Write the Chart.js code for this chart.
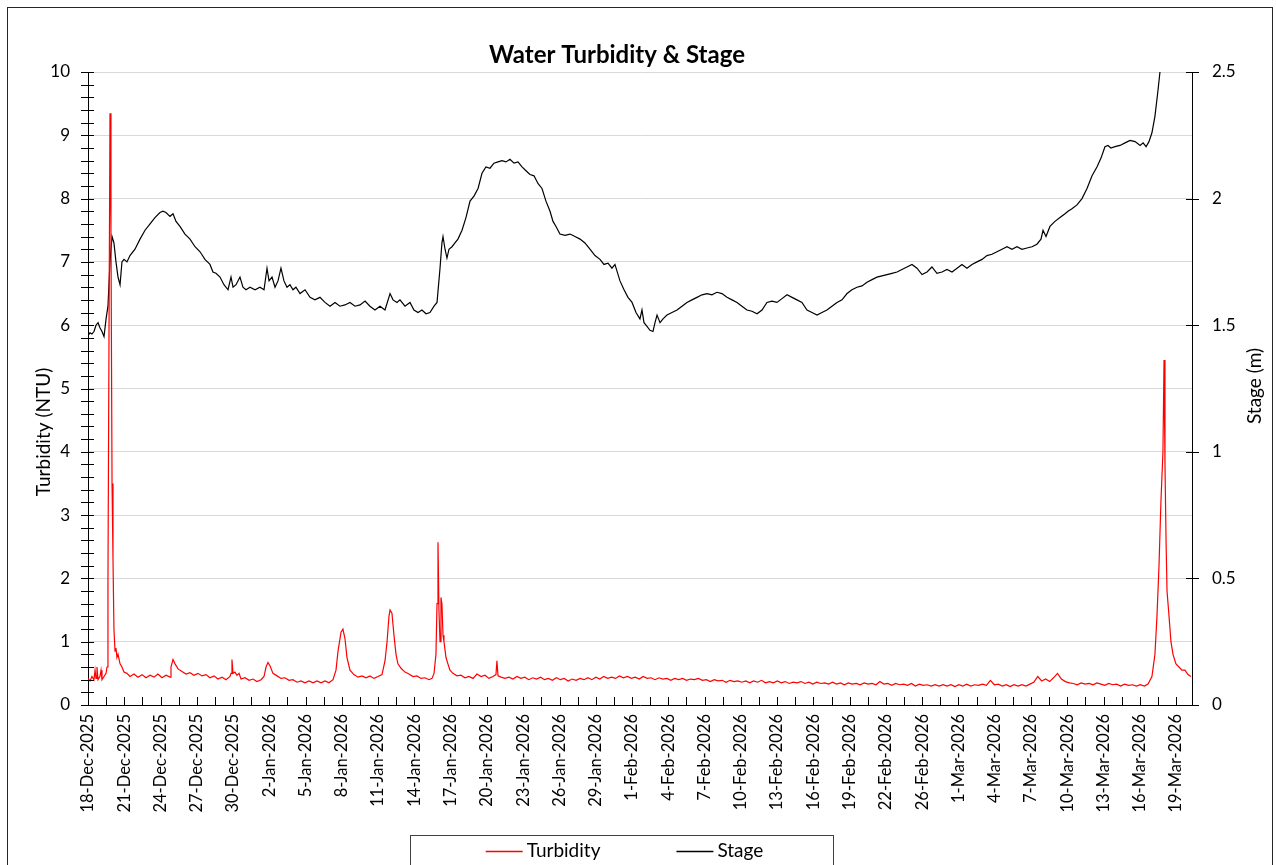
<!DOCTYPE html>
<html>
<head>
<meta charset="utf-8">
<title>Water Turbidity & Stage</title>
<script src="https://cdn.jsdelivr.net/npm/chart.js@4.4.1/dist/chart.umd.min.js"></script>
<style>
  html, body { margin: 0; padding: 0; background: #fff; }
  #wrap { width: 1276px; height: 865px; position: relative; }
</style>
</head>
<body>
<div id="wrap"><canvas id="chart"></canvas></div>
<script>
// x values are days since 18-Dec-2025 00:00
const xTickLabels = ['18-Dec-2025', '21-Dec-2025', '24-Dec-2025', '27-Dec-2025', '30-Dec-2025',
    '2-Jan-2026', '5-Jan-2026', '8-Jan-2026', '11-Jan-2026', '14-Jan-2026', '17-Jan-2026',
    '20-Jan-2026', '23-Jan-2026', '26-Jan-2026', '29-Jan-2026', '1-Feb-2026', '4-Feb-2026',
    '7-Feb-2026', '10-Feb-2026', '13-Feb-2026', '16-Feb-2026', '19-Feb-2026', '22-Feb-2026',
    '26-Feb-2026', '1-Mar-2026', '4-Mar-2026', '7-Mar-2026', '10-Mar-2026', '13-Mar-2026',
    '16-Mar-2026', '19-Mar-2026'];

// Stage (m)
const stageDays = [
    0.00, 0.17, 0.33, 0.50, 0.67, 0.84, 1.00, 1.17, 1.34, 1.51,
    1.67, 1.84, 2.01, 2.17, 2.34, 2.51, 2.68, 2.84, 3.01, 3.26,
    3.51, 3.93, 4.35, 4.77, 5.19, 5.60, 6.02, 6.27, 6.52, 6.86,
    7.11, 7.36, 7.69, 8.11, 8.53, 8.95, 9.37, 9.78, 10.20, 10.45,
    10.70, 11.04, 11.37, 11.71, 11.96, 12.13, 12.38, 12.71, 12.96, 13.21,
    13.55, 13.97, 14.38, 14.72, 14.97, 15.14, 15.39, 15.64, 15.89, 16.14,
    16.39, 16.64, 16.89, 17.14, 17.39, 17.73, 18.15, 18.57, 18.98, 19.40,
    19.82, 20.24, 20.66, 21.07, 21.49, 21.91, 22.33, 22.75, 23.17, 23.58,
    24.00, 24.42, 24.84, 25.26, 25.51, 25.84, 26.09, 26.51, 26.93, 27.26,
    27.60, 27.93, 28.27, 28.60, 28.94, 29.19, 29.44, 29.60, 29.69, 29.86,
    30.02, 30.19, 30.44, 30.69, 30.94, 31.28, 31.61, 31.95, 32.28, 32.62,
    32.95, 33.28, 33.62, 33.95, 34.29, 34.62, 34.96, 35.29, 35.63, 35.96,
    36.30, 36.63, 36.96, 37.30, 37.63, 37.97, 38.30, 38.64, 38.89, 39.14,
    39.47, 39.89, 40.31, 40.73, 41.15, 41.56, 41.98, 42.40, 42.82, 43.15,
    43.49, 43.82, 44.07, 44.49, 44.83, 45.16, 45.50, 45.83, 46.16, 46.33,
    46.50, 46.75, 47.00, 47.25, 47.42, 47.59, 47.84, 48.09, 48.42, 48.84,
    49.26, 49.68, 50.09, 50.51, 50.93, 51.35, 51.77, 52.18, 52.60, 53.02,
    53.44, 53.86, 54.28, 54.69, 55.11, 55.53, 55.95, 56.37, 56.78, 57.20,
    57.62, 58.04, 58.46, 58.88, 59.29, 59.71, 60.13, 60.55, 60.97, 61.38,
    61.80, 62.22, 62.64, 63.06, 63.48, 63.89, 64.31, 64.73, 65.15, 65.57,
    65.98, 66.40, 66.82, 67.24, 67.66, 68.07, 68.49, 68.91, 69.33, 69.75,
    70.17, 70.58, 71.00, 71.42, 71.84, 72.26, 72.68, 73.09, 73.51, 73.93,
    74.35, 74.77, 75.18, 75.60, 76.02, 76.44, 76.86, 77.27, 77.69, 78.11,
    78.53, 78.95, 79.36, 79.70, 79.87, 80.12, 80.45, 80.87, 81.29, 81.71,
    81.96, 82.29, 82.71, 83.13, 83.55, 83.97, 84.38, 84.72, 85.05, 85.30,
    85.55, 85.89, 86.31, 86.73, 87.15, 87.57, 87.99, 88.24, 88.49, 88.73,
    88.98, 89.23, 89.48, 89.65, 89.82];
const stageM = [
    1.46, 1.47, 1.465, 1.475, 1.50, 1.51, 1.49, 1.475, 1.455, 1.525,
    1.575, 1.75, 1.85, 1.825, 1.75, 1.69, 1.66, 1.75, 1.76, 1.75,
    1.775, 1.80, 1.84, 1.875, 1.90, 1.925, 1.945, 1.95, 1.945, 1.93,
    1.94, 1.91, 1.89, 1.86, 1.84, 1.81, 1.79, 1.76, 1.74, 1.71,
    1.705, 1.69, 1.66, 1.64, 1.69, 1.65, 1.66, 1.69, 1.65, 1.64,
    1.65, 1.64, 1.65, 1.64, 1.725, 1.675, 1.69, 1.65, 1.675, 1.725,
    1.675, 1.65, 1.66, 1.64, 1.65, 1.625, 1.64, 1.61, 1.60, 1.61,
    1.59, 1.575, 1.59, 1.575, 1.58, 1.59, 1.575, 1.58, 1.595, 1.575,
    1.56, 1.575, 1.56, 1.625, 1.60, 1.59, 1.60, 1.575, 1.59, 1.56,
    1.55, 1.56, 1.545, 1.55, 1.575, 1.59, 1.725, 1.825, 1.85, 1.80,
    1.765, 1.80, 1.81, 1.825, 1.84, 1.875, 1.925, 1.99, 2.01, 2.04,
    2.10, 2.125, 2.12, 2.14, 2.145, 2.15, 2.145, 2.155, 2.14, 2.145,
    2.125, 2.11, 2.095, 2.09, 2.06, 2.04, 1.99, 1.95, 1.91, 1.89,
    1.86, 1.855, 1.86, 1.85, 1.84, 1.825, 1.80, 1.775, 1.76, 1.74,
    1.745, 1.725, 1.74, 1.675, 1.64, 1.61, 1.59, 1.55, 1.525, 1.56,
    1.51, 1.495, 1.48, 1.475, 1.51, 1.54, 1.51, 1.525, 1.54, 1.55,
    1.56, 1.575, 1.59, 1.60, 1.61, 1.62, 1.625, 1.62, 1.63, 1.625,
    1.61, 1.60, 1.59, 1.575, 1.56, 1.555, 1.545, 1.56, 1.59, 1.595,
    1.59, 1.605, 1.62, 1.61, 1.60, 1.59, 1.56, 1.55, 1.54, 1.55,
    1.56, 1.575, 1.59, 1.60, 1.625, 1.64, 1.65, 1.655, 1.67, 1.68,
    1.69, 1.695, 1.70, 1.705, 1.71, 1.72, 1.73, 1.74, 1.725, 1.70,
    1.71, 1.73, 1.705, 1.71, 1.72, 1.71, 1.725, 1.74, 1.725, 1.74,
    1.75, 1.76, 1.775, 1.78, 1.79, 1.80, 1.81, 1.80, 1.81, 1.80,
    1.805, 1.81, 1.82, 1.84, 1.875, 1.85, 1.89, 1.91, 1.925, 1.94,
    1.95, 1.96, 1.975, 2.00, 2.04, 2.09, 2.125, 2.16, 2.205, 2.21,
    2.20, 2.205, 2.21, 2.22, 2.23, 2.225, 2.21, 2.22, 2.205, 2.225,
    2.26, 2.325, 2.425, 2.50, 2.58];

// Turbidity (NTU)
const turbDays = [
    0.00, 0.17, 0.33, 0.50, 0.59, 0.67, 0.75, 0.84, 1.00, 1.09,
    1.17, 1.34, 1.51, 1.59, 1.67, 1.76, 1.84, 1.92, 2.01, 2.09,
    2.17, 2.26, 2.34, 2.42, 2.51, 2.68, 2.84, 3.01, 3.26, 3.51,
    3.85, 4.18, 4.52, 4.85, 5.19, 5.52, 5.85, 6.19, 6.52, 6.86,
    6.94, 7.11, 7.28, 7.53, 7.86, 8.20, 8.53, 8.86, 9.20, 9.53,
    9.87, 10.20, 10.54, 10.87, 11.21, 11.54, 11.88, 11.96, 12.04, 12.13,
    12.29, 12.46, 12.63, 12.80, 13.13, 13.47, 13.80, 14.13, 14.47, 14.72,
    14.89, 15.05, 15.22, 15.47, 15.81, 16.14, 16.47, 16.81, 17.14, 17.48,
    17.81, 18.15, 18.48, 18.82, 19.15, 19.49, 19.82, 20.15, 20.49, 20.74,
    20.91, 21.16, 21.32, 21.49, 21.66, 21.91, 22.24, 22.58, 22.92, 23.25,
    23.58, 23.92, 24.25, 24.59, 24.84, 25.01, 25.17, 25.26, 25.42, 25.59,
    25.76, 25.92, 26.18, 26.51, 26.84, 27.18, 27.51, 27.85, 28.18, 28.52,
    28.77, 28.94, 29.10, 29.19, 29.27, 29.35, 29.44, 29.52, 29.60, 29.69,
    29.77, 29.94, 30.10, 30.27, 30.52, 30.86, 31.19, 31.53, 31.86, 32.20,
    32.53, 32.87, 33.20, 33.53, 33.87, 34.12, 34.20, 34.29, 34.54, 34.87,
    35.21, 35.54, 35.87, 36.20, 36.53, 36.86, 37.19, 37.52, 37.85, 38.18,
    38.51, 38.84, 39.17, 39.50, 39.83, 40.16, 40.49, 40.82, 41.15, 41.48,
    41.81, 42.14, 42.47, 42.80, 43.13, 43.46, 43.79, 44.12, 44.45, 44.78,
    45.11, 45.44, 45.77, 46.10, 46.43, 46.76, 47.09, 47.42, 47.75, 48.08,
    48.41, 48.74, 49.07, 49.40, 49.73, 50.06, 50.39, 50.72, 51.05, 51.38,
    51.71, 52.04, 52.37, 52.70, 53.03, 53.36, 53.69, 54.02, 54.35, 54.68,
    55.01, 55.34, 55.67, 56.00, 56.33, 56.66, 56.99, 57.32, 57.65, 57.98,
    58.31, 58.64, 58.97, 59.30, 59.63, 59.96, 60.29, 60.62, 60.95, 61.28,
    61.61, 61.94, 62.27, 62.60, 62.93, 63.26, 63.59, 63.92, 64.25, 64.58,
    64.91, 65.24, 65.57, 65.90, 66.23, 66.56, 66.89, 67.22, 67.55, 67.88,
    68.21, 68.54, 68.87, 69.20, 69.53, 69.86, 70.19, 70.52, 70.85, 71.18,
    71.51, 71.84, 72.17, 72.50, 72.83, 73.16, 73.49, 73.82, 74.15, 74.48,
    74.81, 75.14, 75.47, 75.80, 76.13, 76.46, 76.79, 77.12, 77.45, 77.78,
    78.11, 78.44, 78.77, 79.10, 79.43, 79.76, 80.09, 80.42, 80.75, 81.08,
    81.41, 81.74, 82.07, 82.40, 82.73, 83.06, 83.39, 83.72, 84.05, 84.38,
    84.71, 85.04, 85.37, 85.70, 86.03, 86.36, 86.69, 87.02, 87.35, 87.68,
    88.01, 88.34, 88.65, 88.98, 89.23,
    89.40, 89.57, 89.73, 89.90, 89.99, 90.07, 90.16, 90.24, 90.41, 90.57,
    90.74, 90.99, 91.24, 91.49, 91.74, 91.99, 92.24];
const turbNTU = [
    0.42, 0.38, 0.45, 0.40, 0.55, 0.42, 0.60, 0.40, 0.45, 0.55,
    0.40, 0.45, 0.50, 0.60, 2.0, 6.0, 9.35, 7.5, 3.5, 2.3,
    1.2, 0.85, 0.9, 0.75, 0.8, 0.65, 0.6, 0.52, 0.5, 0.45,
    0.49, 0.44, 0.48, 0.43, 0.47, 0.44, 0.49, 0.43, 0.47, 0.44,
    0.6, 0.72, 0.65, 0.57, 0.53, 0.49, 0.51, 0.47, 0.50, 0.46,
    0.48, 0.43, 0.46, 0.41, 0.44, 0.40, 0.45, 0.5, 0.72, 0.5,
    0.52, 0.47, 0.5, 0.41, 0.43, 0.39, 0.41, 0.37, 0.40, 0.45,
    0.6, 0.67, 0.62, 0.5, 0.46, 0.42, 0.43, 0.39, 0.40, 0.36,
    0.38, 0.35, 0.38, 0.35, 0.38, 0.35, 0.38, 0.35, 0.40, 0.55,
    0.85, 1.15, 1.2, 1.05, 0.75, 0.55, 0.48, 0.44, 0.46, 0.43,
    0.46, 0.42, 0.45, 0.48, 0.7, 1.0, 1.4, 1.5, 1.45, 1.1,
    0.8, 0.65, 0.58, 0.52, 0.49, 0.45, 0.46, 0.42, 0.43, 0.40,
    0.42, 0.5, 0.8, 1.6, 2.57, 1.5, 1.0, 1.7, 1.6, 1.1,
    1.0, 0.75, 0.65, 0.55, 0.5, 0.46, 0.47, 0.43, 0.45, 0.42,
    0.49, 0.45, 0.47, 0.42, 0.45, 0.48, 0.7, 0.46, 0.44, 0.42,
    0.44, 0.41, 0.45, 0.42, 0.44, 0.40, 0.43, 0.41, 0.44, 0.40,
    0.42, 0.39, 0.43, 0.40, 0.42, 0.38, 0.41, 0.39, 0.42, 0.40,
    0.43, 0.40, 0.44, 0.41, 0.45, 0.42, 0.44, 0.42, 0.46, 0.43,
    0.45, 0.42, 0.44, 0.41, 0.45, 0.42, 0.43, 0.40, 0.43, 0.41,
    0.42, 0.39, 0.42, 0.40, 0.42, 0.39, 0.41, 0.40, 0.42, 0.39,
    0.40, 0.37, 0.40, 0.38, 0.39, 0.36, 0.39, 0.37, 0.38, 0.36,
    0.38, 0.35, 0.38, 0.36, 0.39, 0.35, 0.37, 0.35, 0.38, 0.35,
    0.37, 0.34, 0.36, 0.35, 0.37, 0.34, 0.36, 0.33, 0.36, 0.34,
    0.35, 0.33, 0.36, 0.33, 0.35, 0.32, 0.35, 0.33, 0.34, 0.32,
    0.35, 0.33, 0.34, 0.32, 0.37, 0.33, 0.34, 0.31, 0.34, 0.32,
    0.33, 0.31, 0.34, 0.30, 0.33, 0.31, 0.32, 0.30, 0.32, 0.30,
    0.32, 0.30, 0.32, 0.29, 0.32, 0.30, 0.33, 0.30, 0.32, 0.31,
    0.33, 0.31, 0.39, 0.32, 0.33, 0.30, 0.32, 0.29, 0.32, 0.30,
    0.32, 0.30, 0.33, 0.36, 0.45, 0.38, 0.41, 0.37, 0.43, 0.50,
    0.41, 0.37, 0.35, 0.34, 0.32, 0.35, 0.33, 0.34, 0.32, 0.35,
    0.33, 0.31, 0.34, 0.32, 0.33, 0.30, 0.33, 0.31, 0.32, 0.30,
    0.32, 0.30, 0.33, 0.45, 0.8,
    1.4, 2.2, 3.2, 4.0, 5.45, 3.8, 2.6, 1.8, 1.4, 1.0,
    0.8, 0.65, 0.6, 0.55, 0.55, 0.48, 0.45];

const X_MAX = 92.33;
const X_STEP = 91 / 30;   // label spacing on the date axis
const FONT = 'Lato, "Open Sans", sans-serif';

Chart.defaults.font.family = FONT;
Chart.defaults.color = '#000';

// title, axis titles, legend box, outer frame and cross tick marks (Excel look)
const excelChrome = {
    id: 'excelChrome',
    afterDraw(chart) {
        const { ctx, chartArea: a, scales } = chart;
        ctx.save();

        ctx.strokeStyle = '#262626';
        ctx.lineWidth = 1;
        ctx.strokeRect(7.5, 7.5, 1265, 900);

        // tick marks
        ctx.strokeStyle = '#000';
        ctx.beginPath();
        for (let i = 0; i <= 50; i++) {
            const y = Math.round(scales.y.getPixelForValue(i * 0.2)) + 0.5;
            ctx.moveTo(a.left - 7, y);
            ctx.lineTo(a.left + 6, y);
        }
        for (let i = 0; i <= 5; i++) {
            const y = Math.round(scales.y1.getPixelForValue(i * 0.5)) + 0.5;
            ctx.moveTo(a.right - 6, y);
            ctx.lineTo(a.right + 7, y);
        }
        for (let i = 0; i * X_STEP / 2 <= X_MAX; i++) {
            const x = Math.round(scales.x.getPixelForValue(i * X_STEP / 2)) + 0.5;
            ctx.moveTo(x, a.bottom - 8);
            ctx.lineTo(x, a.bottom);
        }
        ctx.stroke();

        // chart title
        ctx.fillStyle = '#000';
        ctx.textAlign = 'center';
        ctx.textBaseline = 'alphabetic';
        ctx.font = 'bold 24px ' + FONT;
        ctx.fillText('Water Turbidity & Stage', 617, 63);

        // axis titles
        ctx.font = '19px ' + FONT;
        ctx.save();
        ctx.translate(50, 432);
        ctx.rotate(-Math.PI / 2);
        ctx.fillText('Turbidity (NTU)', 0, 0);
        ctx.restore();
        ctx.save();
        ctx.translate(1261, 386);
        ctx.rotate(-Math.PI / 2);
        ctx.fillText('Stage (m)', 0, 0);
        ctx.restore();

        // legend
        ctx.strokeStyle = '#404040';
        ctx.strokeRect(410.5, 835.5, 423, 40);
        const lineLen = 37, gap = 4, itemGap = 76;
        const items = chart.data.datasets;
        const widths = items.map(d => lineLen + gap + ctx.measureText(d.label).width);
        const total = widths.reduce((s, w) => s + w, 0) + itemGap * (items.length - 1);
        let lx = 624.5 - total / 2;
        ctx.textAlign = 'left';
        items.forEach((d, i) => {
            ctx.strokeStyle = d.borderColor;
            ctx.lineWidth = 1.3;
            ctx.beginPath();
            ctx.moveTo(lx, 851.5);
            ctx.lineTo(lx + lineLen, 851.5);
            ctx.stroke();
            ctx.fillText(d.label, lx + lineLen + gap, 857);
            lx += widths[i] + itemGap;
        });

        ctx.restore();
    }
};

new Chart(document.getElementById('chart'), {
    type: 'line',
    data: {
        datasets: [
            {
                label: 'Turbidity',
                data: turbDays.map((d, i) => ({ x: d, y: turbNTU[i] })),
                borderColor: '#ff0000',
                borderWidth: 1.2,
                pointRadius: 0,
                yAxisID: 'y'
            },
            {
                label: 'Stage',
                data: stageDays.map((d, i) => ({ x: d, y: stageM[i] })),
                borderColor: '#000000',
                borderWidth: 1.2,
                pointRadius: 0,
                yAxisID: 'y1'
            }
        ]
    },
    options: {
        responsive: true,
        maintainAspectRatio: false,
        devicePixelRatio: 1,
        animation: false,
        layout: { padding: { top: 72, bottom: 29, left: 0, right: 0 } },
        plugins: {
            legend: { display: false },
            title: { display: false },
            tooltip: { enabled: false }
        },
        scales: {
            x: {
                type: 'linear',
                min: 0,
                max: X_MAX,
                grid: { display: true, drawOnChartArea: false, drawTicks: false },
                border: { display: true, color: '#000', width: 1 },
                afterBuildTicks: s => { s.ticks = xTickLabels.map((_, i) => ({ value: i * X_STEP })); },
                ticks: {
                    autoSkip: false,
                    minRotation: 90,
                    maxRotation: 90,
                    padding: 9,
                    font: { size: 16.5 },
                    callback: (v, i) => xTickLabels[i]
                },
                afterFit: s => { s.height = 131; }
            },
            y: {
                position: 'left',
                min: 0,
                max: 10,
                ticks: { stepSize: 1, padding: 18, font: { size: 17 } },
                grid: { color: '#d9d9d9', drawTicks: false },
                border: { display: true, color: '#000' },
                afterFit: s => { s.width = 88; }
            },
            y1: {
                position: 'right',
                min: 0,
                max: 2.5,
                ticks: { stepSize: 0.5, padding: 20, font: { size: 17 }, callback: v => String(+v.toFixed(1)) },
                grid: { drawOnChartArea: false, drawTicks: false },
                border: { display: true, color: '#000' },
                afterFit: s => { s.width = 84; }
            }
        }
    },
    plugins: [excelChrome]
});
</script>
</body>
</html>
